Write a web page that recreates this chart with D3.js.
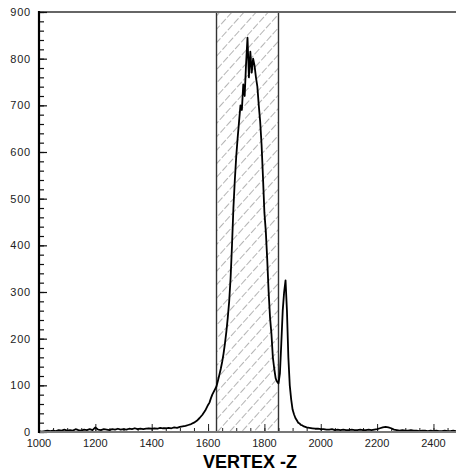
<!DOCTYPE html>
<html>
<head>
<meta charset="utf-8">
<script src="https://cdn.jsdelivr.net/npm/d3@7"></script>
<style>
  html, body { margin: 0; padding: 0; background: #fff; }
  svg { display: block; }
</style>
</head>
<body>
<svg id="chart" width="456" height="471"></svg>
<script>
// Vertex-Z histogram: bin centres and entries per bin
const vertexZ = [
  1000,1010,1020,1030,1040,1050,1060,1070,1080,1090,
  1100,1110,1120,1130,1140,1150,1160,1170,1180,1190,
  1200,1210,1220,1230,1240,1250,1260,1270,1280,1290,
  1300,1310,1320,1330,1340,1350,1360,1370,1380,1390,
  1400,1410,1420,1430,1440,1450,1460,1470,1480,1490,
  1500,1510,1520,1530,1540,1550,1560,1570,1580,1590,
  1600,1605,1610,1615,1620,1625,1630,1635,1640,1645,
  1650,1655,1660,1665,1670,1675,1680,1685,1690,1695,
  1700,1705,1710,1715,1720,1725,1730,1735,1740,1745,
  1750,1755,1760,1765,1770,1775,1780,1785,1790,1795,
  1800,1805,1810,1815,1820,1825,1830,1835,1840,1845,
  1850,1855,1860,1865,1870,1875,1880,1885,1890,1895,
  1900,1905,1910,1915,1920,1925,1930,1935,1940,1945,
  1950,1960,1970,1980,1990,2000,2010,2020,2030,2040,
  2050,2060,2070,2080,2090,2100,2110,2120,2130,2140,
  2150,2160,2170,2180,2190,2200,2210,2220,2230,2240,
  2250,2260,2270,2280,2290,2300,2310,2320,2330,2340,
  2350,2360,2370,2380,2390,2400,2410,2420,2430,2440,
  2450,2460,2470,2480
];
const entries = [
  2,1,2,3,2,3,2,4,3,5,
  3,4,3,6,4,3,5,4,6,4,
  10,5,4,6,5,4,6,5,7,5,
  6,5,7,6,8,6,7,6,7,8,
  7,8,7,9,8,8,9,8,10,9,
  11,12,13,15,17,20,24,30,37,46,
  58,63,72,80,86,92,98,110,122,135,
  150,168,190,215,245,280,330,400,480,540,
  590,630,665,700,690,745,720,790,845,760,
  815,770,800,785,760,740,700,665,615,545,
  470,430,370,300,245,210,160,135,115,108,
  104,125,190,260,300,325,260,160,100,70,
  48,38,30,25,20,18,15,14,12,11,
  10,9,8,7,7,6,6,5,5,6,
  4,5,4,5,4,4,5,4,4,5,
  4,4,5,4,5,6,8,10,11,10,
  8,5,4,3,4,3,3,4,3,3,
  2,3,3,2,3,2,3,2,2,3,
  2,2,3,2
];

// Accepted vertex window (shaded band)
const cutWindow = [1630, 1850];

// Axis ranges and tick labels
const xDomain = [1000, 2480];
const yDomain = [0, 900];
const xTickLabels = [1000, 1200, 1400, 1600, 1800, 2000, 2200, 2400];
const yTickLabels = [0, 100, 200, 300, 400, 500, 600, 700, 800, 900];
const xMinorTicks = d3.range(1000, 2480, 50);
const yMinorTicks = d3.range(0, 901, 20);
const axisTitle = "VERTEX -Z";

const svg = d3.select("#chart");
const plot = { left: 39, right: 456, top: 12, bottom: 432 };

const x = d3.scaleLinear().domain(xDomain).range([plot.left, plot.right]);
const y = d3.scaleLinear().domain(yDomain).range([plot.bottom, plot.top]);

// Diagonal hatch for the cut window
const defs = svg.append("defs");
const pat = defs.append("pattern")
  .attr("id", "hatch")
  .attr("patternUnits", "userSpaceOnUse")
  .attr("width", 9).attr("height", 9)
  .attr("patternTransform", "rotate(42)");
pat.append("line")
  .attr("x1", 0).attr("y1", 0).attr("x2", 0).attr("y2", 9)
  .attr("stroke", "#6a6a6a")
  .attr("stroke-width", 1)
  .attr("stroke-dasharray", "5,2");

svg.append("rect")
  .attr("x", x(cutWindow[0]))
  .attr("y", y(yDomain[1]))
  .attr("width", x(cutWindow[1]) - x(cutWindow[0]))
  .attr("height", y(yDomain[0]) - y(yDomain[1]))
  .attr("fill", "url(#hatch)");

svg.selectAll("line.cut")
  .data(cutWindow)
  .join("line")
  .attr("class", "cut")
  .attr("x1", d => x(d)).attr("x2", d => x(d))
  .attr("y1", y(yDomain[0])).attr("y2", y(yDomain[1]))
  .attr("stroke", "#333")
  .attr("stroke-width", 1.4);

// Frame: top and bottom lines in grey, left axis in black
svg.append("line")
  .attr("x1", plot.left).attr("x2", plot.right)
  .attr("y1", y(yDomain[1])).attr("y2", y(yDomain[1]))
  .attr("stroke", "#666").attr("stroke-width", 2);

// Minor and major ticks pointing inward
const xAxisMinor = d3.axisTop(x).tickValues(xMinorTicks).tickSize(4).tickFormat("");
const xAxisMajor = d3.axisTop(x).tickValues(xTickLabels).tickSize(8).tickFormat("");
const gxMinor = svg.append("g").attr("transform", `translate(0,${plot.bottom})`).call(xAxisMinor);
const gxMajor = svg.append("g").attr("transform", `translate(0,${plot.bottom})`).call(xAxisMajor);
[gxMinor, gxMajor].forEach(g => {
  g.select(".domain").remove();
  g.selectAll(".tick line").attr("stroke", "#222").attr("stroke-width", 1);
});

const yAxisMinor = d3.axisRight(y).tickValues(yMinorTicks).tickSize(5).tickFormat("");
const yAxisMajor = d3.axisRight(y).tickValues(yTickLabels).tickSize(8).tickFormat("");
const gyMinor = svg.append("g").attr("transform", `translate(${plot.left},0)`).call(yAxisMinor);
const gyMajor = svg.append("g").attr("transform", `translate(${plot.left},0)`).call(yAxisMajor);
[gyMinor, gyMajor].forEach(g => {
  g.select(".domain").remove();
  g.selectAll(".tick line").attr("stroke", "#111").attr("stroke-width", 1.2);
});

// Histogram trace
const line = d3.line()
  .x((d, i) => x(vertexZ[i]))
  .y(d => y(d))
  .curve(d3.curveLinear);
svg.append("path")
  .datum(entries)
  .attr("d", line)
  .attr("fill", "none")
  .attr("stroke", "#000")
  .attr("stroke-width", 1.8)
  .attr("stroke-linejoin", "round");

svg.append("line")
  .attr("x1", plot.left).attr("x2", plot.right)
  .attr("y1", y(yDomain[0])).attr("y2", y(yDomain[0]))
  .attr("stroke", "#777").attr("stroke-width", 2);

svg.append("line")
  .attr("x1", plot.left).attr("x2", plot.left)
  .attr("y1", y(yDomain[1]) - 1).attr("y2", y(yDomain[0]) + 1)
  .attr("stroke", "#000").attr("stroke-width", 2.2);

// Tick labels
svg.append("g")
  .selectAll("text")
  .data(xTickLabels)
  .join("text")
  .attr("x", d => x(d))
  .attr("y", 447)
  .attr("text-anchor", "middle")
  .attr("font-family", "Liberation Sans, Arial, sans-serif")
  .attr("font-size", 11)
  .attr("fill", "#222")
  .text(d => d);

svg.append("g")
  .selectAll("text")
  .data(yTickLabels)
  .join("text")
  .attr("x", 31)
  .attr("y", d => y(d) + 4)
  .attr("text-anchor", "end")
  .attr("font-family", "Liberation Sans, Arial, sans-serif")
  .attr("font-size", 11)
  .attr("letter-spacing", 0.8)
  .attr("fill", "#222")
  .text(d => d);

// Axis title
svg.append("text")
  .attr("x", 250)
  .attr("y", 468)
  .attr("text-anchor", "middle")
  .attr("font-family", "Liberation Sans, Arial, sans-serif")
  .attr("font-weight", "bold")
  .attr("font-size", 18)
  .attr("fill", "#000")
  .text(axisTitle);
</script>
</body>
</html>
